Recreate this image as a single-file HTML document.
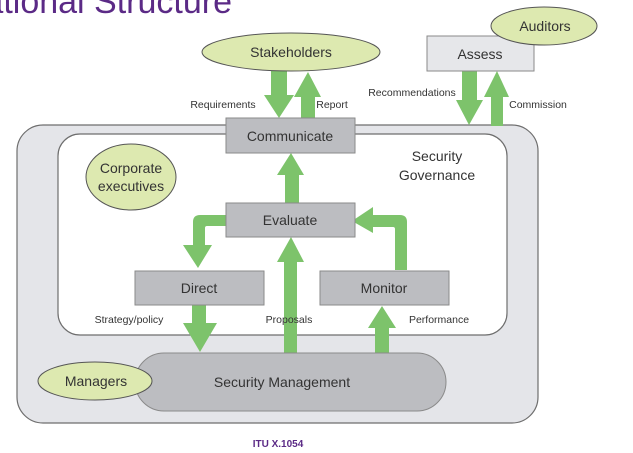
<!DOCTYPE html>
<html><head><meta charset="utf-8"><style>
html,body{margin:0;padding:0;background:#fff;}
svg{display:block;}
text{font-family:"Liberation Sans",Arial,sans-serif;fill:#333;}
</style></head><body>
<svg width="633" height="453" viewBox="0 0 633 453" xmlns="http://www.w3.org/2000/svg">
<text x="232" y="13" text-anchor="end" font-size="34" style="fill:#5b2a86">ational Structure</text>

<!-- outer and inner frames -->
<rect x="17" y="125" width="521" height="298" rx="26" fill="#e4e5e9" stroke="#6e6e6e" stroke-width="1.2"/>
<rect x="58" y="134" width="449" height="201" rx="22" fill="#fff" stroke="#6e6e6e" stroke-width="1.2"/>

<g fill="#7dc36b">
<!-- Requirements down -->
<path d="M271 71 H287 V95 H294 L279 118 L264 95 H271 Z"/>
<!-- Report up -->
<path d="M301 118 H315 V97 H321 L308 72 L294 97 H301 Z"/>
<!-- Recommendations down -->
<path d="M462 71 H477 V100 H483 L469 125 L456 100 H462 Z"/>
<!-- Commission up -->
<path d="M491 126 H503 V97 H509 L497 71 L484 97 H491 Z"/>
<!-- Evaluate -> Communicate -->
<path d="M285 203 H299 V175 H304 L291 153 L277 175 H285 Z"/>
<!-- Proposals -->
<path d="M284 353 H297 V262 H304 L291 237 L277 262 H284 Z"/>
<!-- Direct down -->
<path d="M192 305 H206 V323 H217 L200 352 L183 323 H192 Z"/>
<!-- Monitor up -->
<path d="M375 353 H389 V328 H396 L382 306 L368 328 H375 Z"/>
<!-- left curve -->
<path d="M226 215 H200 Q193 215 193 222 V245 H183 L198 268 L212 245 H205 V228 Q205 226 207 226 H226 Z"/>
<!-- right curve -->
<path d="M395 270 H407 V222 Q407 215 400 215 H373 V207 L352 221 L373 233 V227 H393 Q395 227 395 229 Z"/>
</g>

<!-- boxes -->
<rect x="226" y="118" width="129" height="35" fill="#bcbdc1" stroke="#8a8a8a"/>
<rect x="226" y="203" width="129" height="34" fill="#bcbdc1" stroke="#8a8a8a"/>
<rect x="135" y="271" width="129" height="34" fill="#bcbdc1" stroke="#8a8a8a"/>
<rect x="320" y="271" width="129" height="34" fill="#bcbdc1" stroke="#8a8a8a"/>
<rect x="427" y="36" width="107" height="35" fill="#e6e7ea" stroke="#8a8a8a"/>
<rect x="135" y="353" width="311" height="58" rx="29" fill="#bcbdc1" stroke="#8a8a8a"/>

<!-- ellipses -->
<g fill="#dde9b0" stroke="#555" stroke-width="1">
<ellipse cx="291" cy="52" rx="89" ry="19"/>
<ellipse cx="544" cy="26" rx="53" ry="19"/>
<ellipse cx="131" cy="177" rx="45" ry="33"/>
<ellipse cx="95" cy="381" rx="57" ry="19"/>
</g>

<g font-size="14" text-anchor="middle">
<text x="291" y="57">Stakeholders</text>
<text x="545" y="31">Auditors</text>
<text x="480" y="59">Assess</text>
<text x="290" y="141">Communicate</text>
<text x="290" y="225">Evaluate</text>
<text x="199" y="293">Direct</text>
<text x="384" y="293">Monitor</text>
<text x="282" y="387">Security Management</text>
<text x="96" y="386">Managers</text>
<text x="131" y="173">Corporate</text>
<text x="131" y="191">executives</text>
<text x="437" y="161">Security</text>
<text x="437" y="180">Governance</text>
</g>
<g font-size="10.5" text-anchor="middle">
<text x="223" y="108">Requirements</text>
<text x="332" y="108">Report</text>
<text x="412" y="96">Recommendations</text>
<text x="538" y="108">Commission</text>
<text x="129" y="323">Strategy/policy</text>
<text x="289" y="323">Proposals</text>
<text x="439" y="323">Performance</text>
</g>
<text x="278" y="447" text-anchor="middle" font-size="10" font-weight="bold" style="fill:#5b2a86">ITU X.1054</text>
</svg>
</body></html>
